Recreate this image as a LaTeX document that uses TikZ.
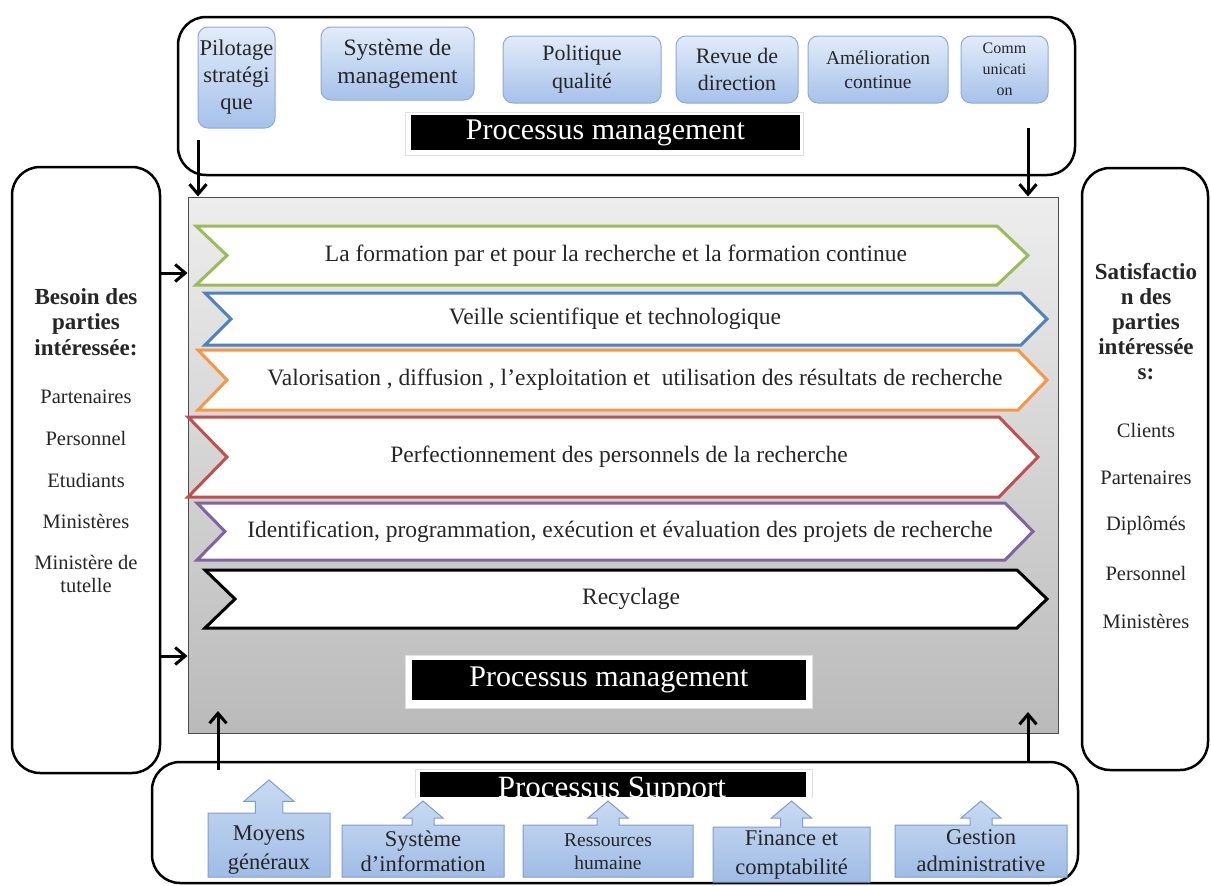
\documentclass[tikz,border=0pt]{standalone}
\usepackage{fontspec}
\setmainfont{Liberation Serif}
\usetikzlibrary{arrows.meta}
\definecolor{tbtop}{HTML}{E2ECF9}
\definecolor{tbbot}{HTML}{A6C1EA}
\definecolor{tbedge}{HTML}{8FA9D6}
\definecolor{sbtop}{HTML}{C8DAF2}
\definecolor{sbbot}{HTML}{A0BCE5}
\definecolor{sbedge}{HTML}{7E9DCF}
\definecolor{cgreen}{HTML}{9BBB59}
\definecolor{cblue}{HTML}{4F81BD}
\definecolor{corange}{HTML}{F79646}
\definecolor{cred}{HTML}{C0504D}
\definecolor{cpurple}{HTML}{8064A2}
\newcommand\myfs[2]{\fontsize{#1}{#2}\selectfont}
\tikzset{
  frame/.style={draw=black, line width=2.5pt, rounded corners=28pt, inner sep=0pt},
  topbox/.style={draw=tbedge, line width=1pt, rounded corners=10pt, top color=tbtop, bottom color=tbbot, inner sep=0pt, align=center, text=black!85},
  supfill/.style={draw=sbedge, line width=1pt, top color=sbtop, bottom color=sbbot},
  suptext/.style={align=center, text=black!85, inner sep=0pt},
  chevtext/.style={font=\myfs{23.5}{26}, text=black!85, inner sep=0pt},
  conn/.style={line width=3pt, -{Straight Barb[length=10pt,width=17pt]}},
  blackbox/.style={fill=black, inner sep=0pt},
  whitebox/.style={fill=white, draw=black!12, line width=1pt, inner sep=0pt},
  sidetext/.style={align=center, text=black!85, inner sep=0pt},
}
\newcommand\mychev[9]{% #1 name #2 x1 #3 x2 #4 y1 #5 y2 #6 color #7 depth #8 textx #9 text
  \path[draw=#6, line width=3pt, fill=white, line join=miter]
    (#2,#4) -- ({#3-#7},#4) -- (#3,{(#4+#5)/2}) -- ({#3-#7},#5) -- (#2,#5) -- ({#2+#7},{(#4+#5)/2}) -- cycle;
  \node[chevtext] (#1) at (#8,{(#4+#5)/2}) {#9};
}
\newcommand\upbox[9]{% #1 name #2 x1 #3 x2 #4 ytop #5 ybot #6 tip y #7 half head #8 node options #9 text
  \pgfmathsetmacro\myCx{(#2+#3)/2}
  \pgfmathsetmacro\myHb{#6+0.85*#7}
  \pgfmathsetmacro\mySw{0.55*#7}
  \path[supfill] (#2,#4) -- ({\myCx-\mySw},#4) -- ({\myCx-\mySw},\myHb) -- ({\myCx-#7},\myHb) -- (\myCx,#6)
     -- ({\myCx+#7},\myHb) -- ({\myCx+\mySw},\myHb) -- ({\myCx+\mySw},#4) -- (#3,#4) -- (#3,#5) -- (#2,#5) -- cycle;
  \node[suptext, #8] (#1) at (\myCx,{(#4+#5)/2}) {#9};
}
\begin{document}
\begin{tikzpicture}[x=1pt,y=-1pt]
\useasboundingbox[fill=white] (0,0) rectangle (1211,886);

% frames
\node[frame, minimum width=897pt, minimum height=158pt] (topframe) at (626.5,96) {};
\node[frame, minimum width=148pt, minimum height=606pt] (leftframe) at (86,470) {};
\node[frame, minimum width=126pt, minimum height=602pt] (rightframe) at (1145,469) {};
\node[frame, minimum width=926pt, minimum height=121pt] (botframe) at (615,822.5) {};

% main rectangle
\node[draw=black!70, line width=1pt, top color=black!7, bottom color=black!27, minimum width=870pt, minimum height=536pt, inner sep=0pt] (main) at (623,465) {};

% top boxes
\node[topbox, minimum width=77pt, minimum height=101pt, font=\myfs{22.5}{27}] (pil) at (236.5,77.5) {Pilotage\\strat\'egi\\que};
\node[topbox, minimum width=153pt, minimum height=73pt, font=\myfs{23.5}{28}] (sysm) at (397.5,63.5) {Syst\`eme de\\management};
\node[topbox, minimum width=158pt, minimum height=67pt, font=\myfs{22}{28}] (pol) at (582,69.5) {Politique\\qualit\'e};
\node[topbox, minimum width=122pt, minimum height=67pt, font=\myfs{22}{27}] (rev) at (737,69.5) {Revue de\\direction};
\node[topbox, minimum width=140pt, minimum height=67pt, font=\myfs{19.5}{24}] (ame) at (878,69.5) {Am\'elioration\\continue};
\node[topbox, minimum width=87pt, minimum height=67pt, font=\myfs{16}{21}] (com) at (1004.5,69.5) {Comm\\unicati\\on};

% top label
\node[whitebox, minimum width=398pt, minimum height=43pt] (topw) at (604,133.5) {};
\node[blackbox, minimum width=389pt, minimum height=35pt, text=white, font=\myfs{30}{32}] (toplbl) at (605.5,132.5) {Processus management};

% chevrons
\mychev{c1}{196}{1028}{226}{285}{cgreen}{31}{616}{La formation par et pour la recherche et la formation continue}
\mychev{c2}{205}{1047}{293}{345}{cblue}{26}{615}{Veille scientifique et technologique}
\mychev{c3}{198}{1047}{350}{410}{corange}{29}{635}{Valorisation , diffusion , l’exploitation et \ utilisation des r\'esultats de recherche}
\mychev{c4}{188}{1038}{417}{497}{cred}{39}{619}{Perfectionnement des personnels de la recherche}
\mychev{c5}{197}{1033}{503}{560}{cpurple}{28}{620}{Identification, programmation, ex\'ecution et \'evaluation des projets de recherche}
\mychev{c6}{205}{1047}{570}{628}{black}{30}{631}{Recyclage}

% bottom label in main
\node[whitebox, minimum width=407pt, minimum height=53pt] (botw) at (608.5,681.5) {};
\node[blackbox, minimum width=394pt, minimum height=40pt, text=white, font=\myfs{30}{32}] (botlbl) at (609,680) {Processus management};

% left texts
\node[sidetext, font=\bfseries\myfs{23}{25.5}] (lhead) at (86,322) {Besoin des\\parties\\int\'eress\'ee:};
\node[sidetext, font=\myfs{20.5}{22}] (l1) at (86,397) {Partenaires};
\node[sidetext, font=\myfs{20.5}{22}] (l2) at (86,438) {Personnel};
\node[sidetext, font=\myfs{20.5}{22}] (l3) at (86,480) {Etudiants};
\node[sidetext, font=\myfs{20.5}{22}] (l4) at (86,521) {Minist\`eres};
\node[sidetext, font=\myfs{20.5}{22.5}] (l5) at (86,574) {Minist\`ere de\\tutelle};

% right texts
\node[sidetext, font=\bfseries\myfs{23}{25}] (rhead) at (1146,322) {Satisfactio\\n des\\parties\\int\'eress\'ee\\s:};
\node[sidetext, font=\myfs{20.5}{22}] (r1) at (1146,430) {Clients};
\node[sidetext, font=\myfs{20.5}{22}] (r2) at (1146,478) {Partenaires};
\node[sidetext, font=\myfs{20.5}{22}] (r3) at (1146,526) {Dipl\^om\'es};
\node[sidetext, font=\myfs{20.5}{22}] (r4) at (1146,573) {Personnel};
\node[sidetext, font=\myfs{20.5}{22}] (r5) at (1146,621) {Minist\`eres};

% support label
\node[whitebox, minimum width=397pt, minimum height=32pt] (supw) at (613.5,785) {};
\node[blackbox, minimum width=386pt, minimum height=25pt] (suplbl) at (613,784.5) {};
\node[text=white, font=\myfs{31}{32}, inner sep=0pt, anchor=base] (suptxt) at (612,797.5) {Processus Support};
\fill[white] (414,797.5) rectangle (813,812);

% support boxes
\upbox{s1}{208}{330}{813}{877}{780}{25}{font=\myfs{22.5}{29}, yshift=-5pt}{Moyens\\g\'en\'eraux}
\upbox{s2}{342}{504}{825}{877}{801}{20}{font=\myfs{22.5}{25}}{Syst\`eme\\d’information}
\upbox{s3}{523}{693}{825}{877}{801}{20}{font=\myfs{19.5}{23}, yshift=-1pt}{Ressources\\humaine}
\upbox{s4}{713}{870}{827}{882}{801}{20}{font=\myfs{22.5}{29}}{Finance et\\comptabilit\'e}
\upbox{s5}{895}{1067}{825}{877}{801}{20}{font=\myfs{22.5}{27}}{Gestion\\administrative}

% connectors
\coordinate (a1) at (198,140);
\coordinate (a2) at (1028,128);
\draw[conn] (a1) -- (a1 |- main.north);
\draw[conn] (a2) -- (a2 |- main.north);
\draw[conn] (leftframe.east |- 0,273) -- (main.west |- 0,273);
\draw[conn] (leftframe.east |- 0,656) -- (main.west |- 0,656);
\coordinate (b1) at (218,770);
\coordinate (b2) at (1028,762);
\draw[conn] (b1) -- (218,711);
\draw[conn] (b2) -- (1028,712);
\end{tikzpicture}
\end{document}
